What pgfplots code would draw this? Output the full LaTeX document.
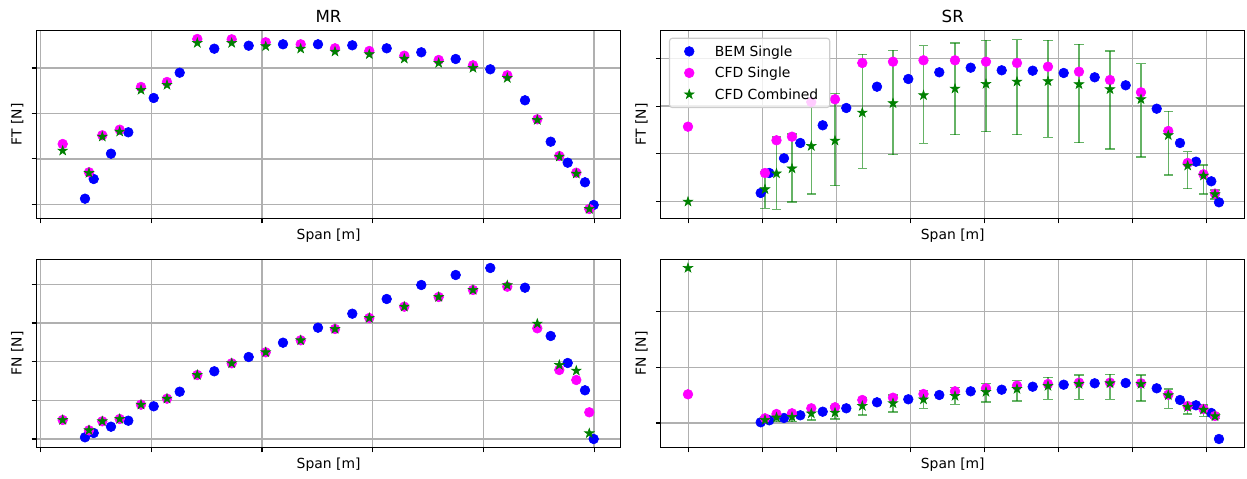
\documentclass[border=0pt]{standalone}
\usepackage{pgfplots}
\pgfplotsset{compat=1.18}
\usepackage{pgfplotstable}
\usepackage{fontspec}
\setmainfont{DejaVu Sans}

\definecolor{mplgreen}{HTML}{008000}
\definecolor{mplblue}{HTML}{0000FF}
\definecolor{mplmagenta}{HTML}{FF00FF}
\definecolor{gridgray}{HTML}{B0B0B0}
\definecolor{legendedge}{HTML}{CCCCCC}

\pgfdeclareplotmark{fstar}{%
  \pgfpathmoveto{\pgfpointpolar{90}{\pgfplotmarksize}}%
  \pgfpathlineto{\pgfpointpolar{126}{0.382*\pgfplotmarksize}}%
  \pgfpathlineto{\pgfpointpolar{162}{\pgfplotmarksize}}%
  \pgfpathlineto{\pgfpointpolar{198}{0.382*\pgfplotmarksize}}%
  \pgfpathlineto{\pgfpointpolar{234}{\pgfplotmarksize}}%
  \pgfpathlineto{\pgfpointpolar{270}{0.382*\pgfplotmarksize}}%
  \pgfpathlineto{\pgfpointpolar{306}{\pgfplotmarksize}}%
  \pgfpathlineto{\pgfpointpolar{342}{0.382*\pgfplotmarksize}}%
  \pgfpathlineto{\pgfpointpolar{18}{\pgfplotmarksize}}%
  \pgfpathlineto{\pgfpointpolar{54}{0.382*\pgfplotmarksize}}%
  \pgfpathclose
  \pgfusepathqfillstroke
}

% MR data (span position, value)
\pgfplotstableread{
x ft fn
85 198.7 437.3
93.7 179 433
111 153.7 426.7
128.3 132.3 420.7
153.7 98 406.3
179.7 72.7 391.7
214.3 48.7 371.3
248.7 45.7 357
283 44.3 342.7
318 44.3 327.7
352.3 45.3 313.7
386.7 48.3 299
421.3 52.3 285
455.7 59 275
490.3 69.3 268
525 100.3 287.7
550.7 141.7 336
567.7 162.7 363
585 182.3 390.3
593.7 205 439
}\mrbem

\pgfplotstableread{
x fts ftc fns fnc
62.7 144 150.7 420 420
89 172.3 173 430.3 430.3
102.3 135.3 136.7 421.3 421.3
119.7 129.7 131.7 419 419
141 87 90 404.7 404.7
167 82 85 398.7 398.7
197.3 39 43 375 375
231.7 39.3 43 363.3 363.3
265.7 42.3 46.3 352.3 352.3
300.7 44.3 48.7 340.3 340.3
335 48.3 51.7 329 329
369.3 51 54.3 318 318
404.3 55.7 58.7 306.7 306.7
438.7 60 63 297 297
473 65.3 68 290 290
507.3 75.3 78 286.7 285.3
537.3 119.3 120 328.3 323.7
559.3 156 156.7 370 365
576.3 172.7 173.7 380 370.7
589.3 209 209 412.3 433.3
}\mrcfd

% SR data
\pgfplotstableread{
x ft fn
760.7 193 422.3
769.3 173 420.3
784 158.3 418
800.3 143 415.3
822.7 125.3 411.7
846.3 108 408.3
877 86.7 402.3
908.3 79 399.3
939.3 72.3 395
970.7 67.7 391.3
1001.7 70.3 389.7
1032.7 70.7 386.7
1063.7 73 384.7
1094.7 77.3 383.3
1125.7 85.3 383
1156.7 108.7 388.3
1180 143 400
1196 161.7 405.3
1211.3 181.3 413
1219 202.3 439
}\srbem

\pgfplotstableread{
x fts ftc ftp ftm fns fnc fnp fnm
765 173 189.3 19 17.6 418.3 420 2 3
776.5 140.3 173.5 36 36.5 414 417.5 4.2 4
792 136.7 168.5 33.5 34.5 413.3 417 4.7 4.5
811.3 102 146 48 48 408.3 413.5 6.5 6
835 99.3 140.7 45 47 407.3 412.7 6.3 6.7
862.3 63 112.7 55.6 58.4 400 406 9 8
893 61.7 103.3 51.4 53 397.7 403.3 8.7 8.3
923.5 60.3 95.3 48 49.6 394 399.5 8.8 9
955 60.3 88.7 46 45.7 391.3 396 8.3 8.3
986 61.7 84 47.7 43.7 388.3 392 10 8.5
1017 63 81.7 53 42 385.7 389 12 8.3
1048 66.7 81.3 56 41 384 386 13.3 8.7
1079 71.7 84.3 58.4 40 382.7 384 15.3 9
1110 80 89.3 59.7 38.3 382.7 383.3 16 9
1141 92.3 99.3 57.7 35.6 383.3 384 17 9
1168.3 131 135.3 39.7 24 394.7 395.3 13 6.3
1187.7 163 165.7 23 14 406 407 7 4.7
1203.5 174.3 175.7 18.3 10.7 409 409.7 6.6 4.7
1215 193.7 194.3 4.7 4.3 416 416.3 2.2 2.3
}\srcfd

\pgfplotsset{
  panel/.style={
    scale only axis, width=420.62pt, height=135.36pt,
    anchor=south west,
    y dir=reverse,
    axis line style={line width=0.8pt},
    tick style={line width=0.8pt, black},
    major tick length=3.5pt,
    tick align=outside,
    xtick pos=bottom, ytick pos=left,
    xticklabels={}, yticklabels={},
    grid=major,
    major grid style={line width=1pt, gridgray},
    xlabel={Span [m]},
    every axis x label/.style={at={(axis description cs:0.5,0)}, anchor=base, yshift=-15pt, font=\fontsize{10}{12}\selectfont},
    every axis y label/.style={at={(axis description cs:-0.0255,0.5)}, rotate=90, anchor=base, font=\fontsize{10}{12}\selectfont},
    every axis title/.style={at={(axis description cs:0.5,1)}, anchor=base, yshift=6.1pt, font=\fontsize{12}{14}\selectfont},
  },
  mr/.style={panel, xmin=36.5, xmax=620.7, xtick={40.4,151.2,262.0,372.7,483.4,594.2}},
  sr/.style={panel, xmin=660.7, xmax=1244.9, xtick={688.4,762.45,836.5,910.55,984.6,1058.65,1132.7,1206.75}},
  mkleg/.style={legend image code/.code={\path[draw=none, fill=none] (0pt,0pt) -- (20pt,0pt); \path[fill opacity=1, draw opacity=1, ##1, /tikz/only marks] plot coordinates {(10pt,0pt)};}},
  bem/.style={only marks, mark=*, mark size=3.5pt, color=mplblue, mark options={fill=mplblue, draw=mplblue, line width=0.4pt}, mkleg},
  cfds/.style={only marks, mark=*, mark size=3.5pt, color=mplmagenta, mark options={fill=mplmagenta, draw=mplmagenta, line width=0.4pt}, mkleg},
  cfdc/.style={only marks, mark=fstar, mark size=3.6pt, color=mplgreen, mark options={fill=mplgreen, draw=mplgreen, line width=0.4pt}, mkleg},
  ebars/.style={error bars/.cd, y dir=both, y explicit,
    error bar style={color=mplgreen, line width=0.75pt, opacity=0.6},
    error mark options={rotate=90, color=mplgreen, line width=0.75pt, mark size=3.35pt, opacity=0.6}},
}

\begin{document}
\begin{tikzpicture}
\useasboundingbox (0,0) rectangle (897.84pt,344.88pt);

% MR - FT
\begin{axis}[mr, at={(26.28pt,187.56pt)}, ymin=30.5, ymax=218.5,
  ytick={68.0,113.4,158.9,204.3}, ylabel={FT [N]}, title={MR}]
\addplot[bem] table[x=x, y=ft] {\mrbem};
\addplot[cfds] table[x=x, y=fts] {\mrcfd};
\addplot[cfdc] table[x=x, y=ftc] {\mrcfd};
\end{axis}

% SR - FT
\begin{axis}[sr, at={(475.70pt,187.56pt)}, ymin=30.5, ymax=218.5,
  ytick={58.7,106.2,153.8,201.3}, ylabel={FT [N]}, title={SR},
  legend cell align=left,
  legend style={at={(axis description cs:0.0142,0.9617)}, anchor=north west,
    draw=legendedge, line width=0.8pt, rounded corners=2pt, fill=white,
    fill opacity=0.8, draw opacity=1, text opacity=1,
    inner xsep=4.2pt, inner ysep=1.7pt, row sep=0pt, column sep=8.5pt,
    nodes={inner sep=0pt, text height=11.4pt, text depth=4.1pt},
    font=\fontsize{10}{12}\selectfont}]
\addplot[bem] table[x=x, y=ft] {\srbem};
\addlegendentry{BEM Single}
\addplot[cfds] table[x=x, y=fts] {\srcfd};
\addlegendentry{CFD Single}
\addplot[cfdc, ebars] table[x=x, y=ftc, y error plus=ftp, y error minus=ftm] {\srcfd};
\addlegendentry{CFD Combined\rule{4pt}{0pt}}
\addplot[cfds, forget plot] coordinates {(688,126.7)};
\addplot[cfdc, forget plot] coordinates {(688,201.7)};
\end{axis}

% MR - FN
\begin{axis}[mr, at={(26.28pt,22.68pt)}, ymin=259.5, ymax=447.5,
  ytick={284.3,323.0,361.7,400.3,439.0}, ylabel={FN [N]}]
\addplot[bem] table[x=x, y=fn] {\mrbem};
\addplot[cfds] table[x=x, y=fns] {\mrcfd};
\addplot[cfdc] table[x=x, y=fnc] {\mrcfd};
\end{axis}

% SR - FN
\begin{axis}[sr, at={(475.70pt,22.68pt)}, ymin=259.5, ymax=447.5,
  ytick={311.7,367.3,423.0}, ylabel={FN [N]}]
\addplot[bem] table[x=x, y=fn] {\srbem};
\addplot[cfds] table[x=x, y=fns] {\srcfd};
\addplot[cfdc, ebars] table[x=x, y=fnc, y error plus=fnp, y error minus=fnm] {\srcfd};
\addplot[cfds] coordinates {(688,394.3)};
\addplot[cfdc] coordinates {(688,268)};
\end{axis}
\end{tikzpicture}
\end{document}
